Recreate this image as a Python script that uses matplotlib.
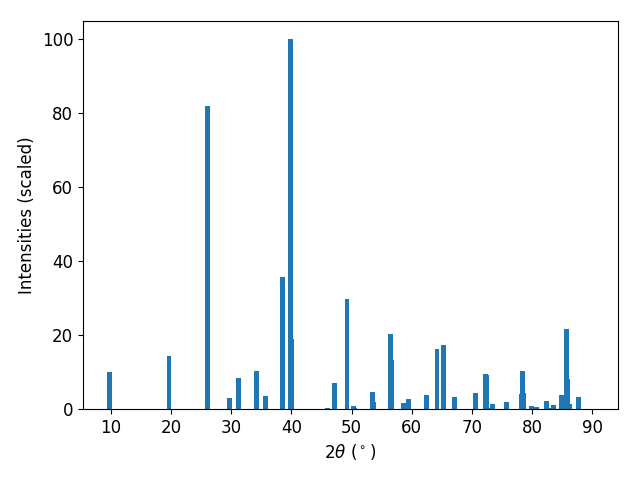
import matplotlib
matplotlib.use('Agg')
import matplotlib.pyplot as plt

# peak positions (2theta, degrees) and scaled intensities
two_theta = [9.75, 19.65, 26.05, 29.71, 31.2, 34.2, 35.7, 38.52, 39.85, 40.05,
             46.0, 47.17, 49.25, 50.33, 50.5, 53.5, 53.7, 56.5, 56.7, 58.57,
             59.48, 62.47, 64.22, 65.22, 67.13, 70.62, 72.29, 72.45, 72.65, 73.45,
             75.7, 78.26, 78.44, 78.6, 79.94, 80.77, 82.43, 82.78, 83.6, 84.93,
             85.76, 85.94, 86.27, 87.67, 89.9]
intensity = [10.0, 14.4, 82.1, 3.0, 8.4, 10.3, 3.5, 35.8, 100.0, 19.0,
             0.3, 7.0, 29.8, 0.8, 0.3, 4.6, 1.9, 20.3, 13.3, 1.6,
             2.7, 3.8, 16.3, 17.3, 3.3, 4.3, 9.5, 9.2, 0.3, 1.4,
             1.9, 4.1, 10.3, 4.3, 0.8, 0.5, 2.2, 0.3, 1.1, 3.8,
             21.7, 8.1, 1.4, 3.3, 0.05]

plt.rcParams['font.size'] = 12

fig, ax = plt.subplots(figsize=(6.4, 4.8), dpi=100)
ax.bar(two_theta, intensity, width=0.8, color='#1f77b4')
ax.set_xlabel(r'2$\theta$ ($^\circ$)')
ax.set_ylabel('Intensities (scaled)')
ax.set_xticks(range(10, 91, 10))
ax.set_xlim(5.34, 94.3)
ax.set_ylim(0, 105)

fig.subplots_adjust(left=0.1297, right=0.9656, top=0.9562, bottom=0.1479)
fig.savefig('out.png', dpi=100)
